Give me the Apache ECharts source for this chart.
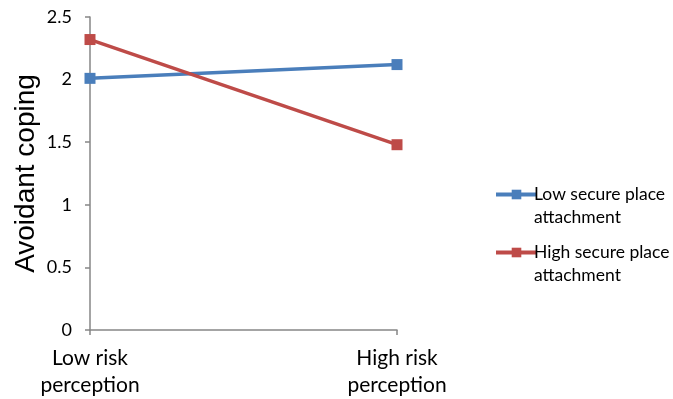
<!DOCTYPE html>
<html><head><meta charset="utf-8">
<script src="https://cdn.jsdelivr.net/npm/echarts@6/dist/echarts.min.js"></script>
<style>html,body{margin:0;padding:0;background:#fff}#c{width:673px;height:399px}</style>
</head><body><div id="c"></div>
<script>
var categories = ['Low risk\nperception', 'High risk\nperception'];
var seriesNames = ['Low secure place attachment', 'High secure place attachment'];
var lowSecure = [2.01, 2.12];
var highSecure = [2.32, 1.48];
var yTicks = [0, 0.5, 1, 1.5, 2, 2.5];

var font = 'Lato, "Open Sans", sans-serif';
var chart = echarts.init(document.getElementById('c'), null, {renderer: 'canvas'});
chart.setOption({
  animation: false,
  backgroundColor: '#fff',
  grid: {left: 90, right: 276, top: 17, bottom: 69, containLabel: false},
  legend: {
    orient: 'vertical', left: 489, top: 155, itemWidth: 41, itemHeight: 12, itemGap: -11,
    data: seriesNames,
    lineStyle: {width: 4},
    formatter: function (n) { return '\n' + n.replace(' place ', ' place\n'); },
    textStyle: {fontFamily: font, fontSize: 17.5, color: '#000', lineHeight: 23, padding: [0, 0, 0, -8]}
  },
  xAxis: {
    type: 'category', data: categories, boundaryGap: false,
    axisLine: {lineStyle: {color: '#868686', width: 1.5}},
    axisTick: {show: true, length: 5, lineStyle: {color: '#868686', width: 1.5}},
    axisLabel: {fontFamily: font, fontSize: 21, color: '#000', lineHeight: 27, margin: 15}
  },
  yAxis: {
    type: 'value', min: yTicks[0], max: yTicks[yTicks.length - 1], interval: 0.5,
    name: 'Avoidant coping', nameLocation: 'middle', nameGap: 50,
    nameTextStyle: {fontFamily: '"Liberation Sans", Arial, sans-serif', fontSize: 28, color: '#000'},
    axisLine: {show: true, lineStyle: {color: '#868686', width: 1.5}},
    axisTick: {show: true, length: 5, lineStyle: {color: '#868686', width: 1.5}},
    splitLine: {show: false},
    axisLabel: {fontFamily: font, fontSize: 18, color: '#000', margin: 18}
  },
  series: [
    {name: seriesNames[0], type: 'line', data: lowSecure, symbol: 'rect', symbolSize: 11,
     itemStyle: {color: '#4A7EBB'}, lineStyle: {color: '#4A7EBB', width: 3.5}},
    {name: seriesNames[1], type: 'line', data: highSecure, symbol: 'rect', symbolSize: 11,
     itemStyle: {color: '#BE4B48'}, lineStyle: {color: '#BE4B48', width: 3.5}}
  ]
});
</script></body></html>
